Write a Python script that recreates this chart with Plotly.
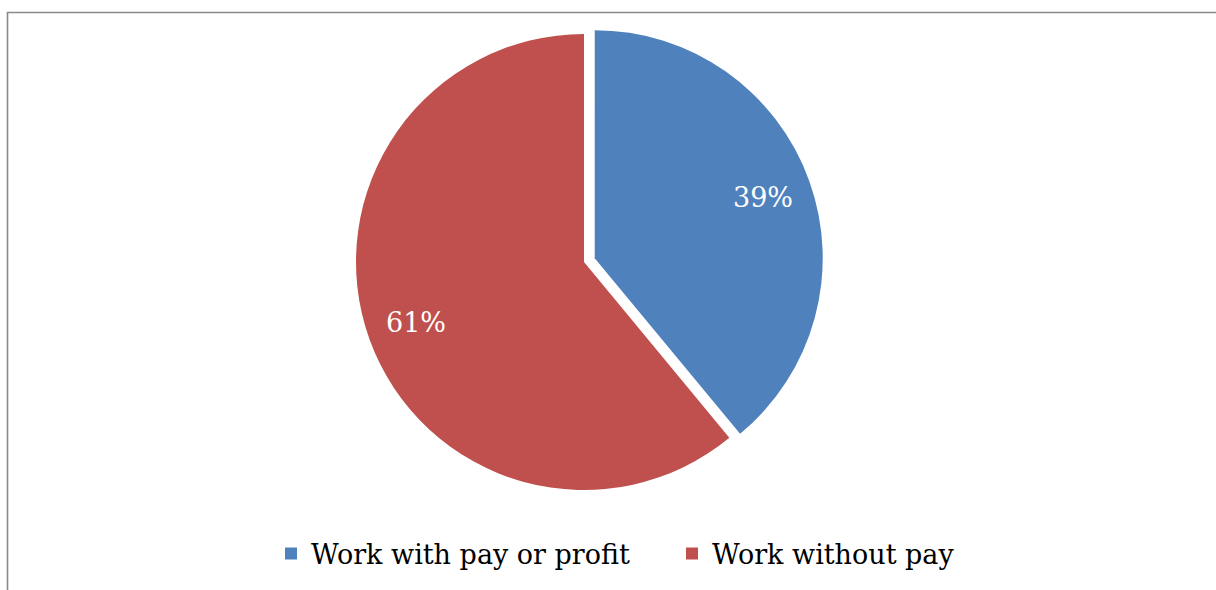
import math
import plotly.graph_objects as go

labels = ["Work with pay or profit", "Work without pay"]
values = [39, 61]
colors = ["#4F81BD", "#C0504D"]
pulls = [0.05, 0]

W, H = 1216, 590
cx, cy, r = 584, 262, 228
half = r * (1 + max(pulls))

fig = go.Figure(go.Pie(
    labels=labels,
    values=values,
    marker=dict(colors=colors, line=dict(width=0)),
    pull=pulls,
    sort=False,
    direction="clockwise",
    rotation=0,
    textinfo="none",
    domain=dict(x=[(cx - half) / W, (cx + half) / W],
                y=[1 - (cy + half) / H, 1 - (cy - half) / H]),
    hoverinfo="label+percent",
))

# percentage labels placed near the outer part of each slice (like the original "best fit")
total = sum(values)
annotations = []
start = 0.0
for v, p in zip(values, pulls):
    mid = (start + v / 2) / total * 2 * math.pi
    start += v
    ux, uy = math.sin(mid), -math.cos(mid)
    ox, oy = cx + ux * p * r, cy + uy * p * r
    lr = 0.785 * r
    px, py = ox + ux * lr, oy + uy * lr
    annotations.append(dict(
        x=px / W, y=1 - py / H, xref="paper", yref="paper",
        text=f"{round(v / total * 100)}%", showarrow=False,
        xanchor="center", yanchor="middle",
        font=dict(family="DejaVu Serif", size=27, color="white"),
    ))

fig.update_layout(
    width=W, height=H,
    margin=dict(l=0, r=0, t=0, b=0),
    paper_bgcolor="white",
    plot_bgcolor="white",
    showlegend=True,
    legend=dict(orientation="h", x=271 / W, xanchor="left", y=1 - 554 / H, yanchor="middle",
                font=dict(family="DejaVu Serif", size=27, color="black"),
                entrywidth=356, entrywidthmode="pixels"),
    annotations=annotations,
    shapes=[
        dict(type="line", xref="paper", yref="paper", x0=7 / W, x1=1, y0=1 - 12.5 / H, y1=1 - 12.5 / H,
             line=dict(color="#898989", width=1.6)),
        dict(type="line", xref="paper", yref="paper", x0=7.5 / W, x1=7.5 / W, y0=0, y1=1 - 12 / H,
             line=dict(color="#898989", width=1.6)),
    ],
)

fig.write_html("out.html")
